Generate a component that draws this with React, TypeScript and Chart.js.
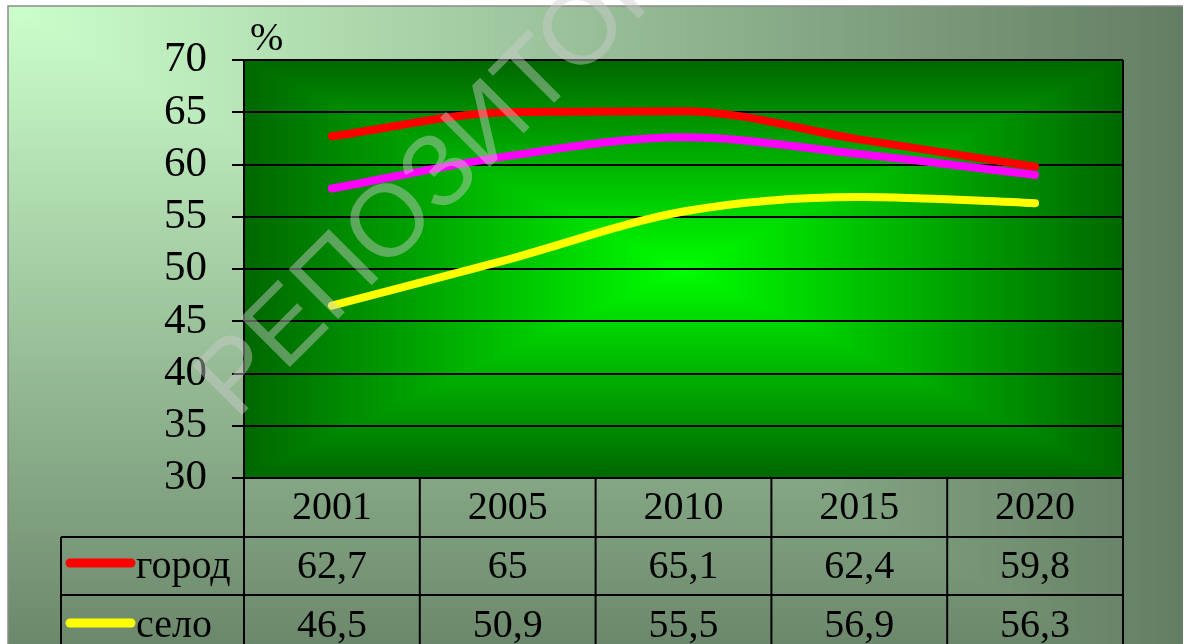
import React, { useEffect, useRef } from "react";
import { Chart, registerables } from "chart.js";

Chart.register(...registerables);

const years = ["2001", "2005", "2010", "2015", "2020"];
const cityValues = [62.7, 65, 65.1, 62.4, 59.8];
const villageValues = [46.5, 50.9, 55.5, 56.9, 56.3];
const totalValues = [57.7, 60.8, 62.6, 61.0, 59.0];
const cityLabels = ["62,7", "65", "65,1", "62,4", "59,8"];
const villageLabels = ["46,5", "50,9", "55,5", "56,9", "56,3"];
const cityName = "город";
const villageName = "село";
const totalName = "всего";
const unitLabel = "%";
const watermarkText = "РЕПОЗИТОРИЙ";

const W = 1192;
const H = 644;
const SERIF = "'Liberation Serif', 'Times New Roman', serif";

function lerp(a: number[], b: number[], t: number) {
  return `rgb(${Math.round(a[0] + (b[0] - a[0]) * t)},${Math.round(a[1] + (b[1] - a[1]) * t)},${Math.round(a[2] + (b[2] - a[2]) * t)})`;
}

const bgPlugin = {
  id: "bgPlugin",
  beforeDraw(chart: any) {
    const ctx = chart.ctx;
    const ca = chart.chartArea;
    ctx.save();
    ctx.fillStyle = "#ffffff";
    ctx.fillRect(0, 0, W, H);
    const fx = 8, fy = 6, fw = 1183 - 8, fh = 700 - 6;
    const c0 = [204, 255, 204];
    const c1 = [100, 126, 100];
    const N = 220;
    for (let i = N; i >= 1; i--) {
      const t = i / N;
      ctx.fillStyle = lerp(c0, c1, t);
      ctx.fillRect(fx, fy, fw * t, fh * t);
    }
    ctx.strokeStyle = "#8a8a8a";
    ctx.lineWidth = 1.5;
    ctx.beginPath();
    ctx.moveTo(fx, H);
    ctx.lineTo(fx, fy);
    ctx.lineTo(fx + fw, fy);
    ctx.stroke();
    const cx = (ca.left + ca.right) / 2;
    const cy = (ca.top + ca.bottom) / 2;
    const hw = (ca.right - ca.left) / 2;
    const hh = (ca.bottom - ca.top) / 2;
    const g0 = [0, 255, 0];
    const g1 = [0, 104, 0];
    for (let i = N; i >= 1; i--) {
      const t = i / N;
      ctx.fillStyle = lerp(g0, g1, t);
      ctx.fillRect(cx - hw * t, cy - hh * t, 2 * hw * t, 2 * hh * t);
    }
    ctx.restore();
  },
};

const tablePlugin = {
  id: "tablePlugin",
  afterDraw(chart: any) {
    const ctx = chart.ctx;
    const ca = chart.chartArea;
    const xs = chart.scales.x;
    ctx.save();
    ctx.strokeStyle = "#000";
    ctx.lineWidth = 2;
    ctx.beginPath();
    ctx.moveTo(ca.right, ca.top);
    ctx.lineTo(ca.right, H);
    ctx.stroke();
    const colW = (ca.right - ca.left) / years.length;
    const rowTop = ca.bottom;
    const row1 = 537;
    const row2 = 595;
    const legendLeft = 61;
    ctx.beginPath();
    ctx.moveTo(ca.left, rowTop);
    ctx.lineTo(ca.right, rowTop);
    ctx.moveTo(legendLeft, row1);
    ctx.lineTo(ca.right, row1);
    ctx.moveTo(legendLeft, row2);
    ctx.lineTo(ca.right, row2);
    ctx.moveTo(legendLeft, row1);
    ctx.lineTo(legendLeft, H);
    for (let i = 0; i < years.length; i++) {
      const x = ca.left + colW * i;
      ctx.moveTo(x, rowTop);
      ctx.lineTo(x, H);
    }
    ctx.stroke();
    ctx.fillStyle = "#000";
    ctx.font = `40px ${SERIF}`;
    ctx.textAlign = "center";
    ctx.textBaseline = "alphabetic";
    years.forEach((y, i) => {
      const x = xs.getPixelForValue(i);
      ctx.fillText(y, x, 519);
      ctx.fillText(cityLabels[i], x, 578);
      ctx.fillText(villageLabels[i], x, 637);
    });
    ctx.lineCap = "round";
    ctx.lineWidth = 9;
    ctx.strokeStyle = "#ff0000";
    ctx.beginPath();
    ctx.moveTo(70, 563);
    ctx.lineTo(131, 563);
    ctx.stroke();
    ctx.strokeStyle = "#ffff00";
    ctx.beginPath();
    ctx.moveTo(70, 623);
    ctx.lineTo(131, 623);
    ctx.stroke();
    ctx.textAlign = "left";
    ctx.fillText(cityName, 136, 578);
    ctx.fillText(villageName, 136, 637);
    ctx.fillText(unitLabel, 250, 50);
    ctx.font = `italic 28px ${SERIF}`;
    ctx.fillText("Р", 1184, 664);
    ctx.translate(236, 421);
    ctx.rotate(-Math.PI / 4);
    ctx.font = "102px 'Liberation Sans', Arial, sans-serif";
    ctx.fillStyle = "rgba(205,205,205,0.45)";
    ctx.textAlign = "left";
    ctx.fillText(watermarkText, 0, 0);
    ctx.restore();
  },
};

export default function App() {
  const ref = useRef<HTMLCanvasElement | null>(null);
  useEffect(() => {
    if (!ref.current) return;
    const mk = (label: string, data: number[], color: string) => ({
      label,
      data,
      borderColor: color,
      borderWidth: 8,
      pointRadius: 0,
      cubicInterpolationMode: "monotone",
      borderCapStyle: "round",
      borderJoinStyle: "round",
    });
    const chart = new Chart(ref.current, {
      type: "line",
      data: {
        labels: years,
        datasets: [
          mk(cityName, cityValues, "#ff0000"),
          mk(totalName, totalValues, "#ff00ff"),
          mk(villageName, villageValues, "#ffff00"),
        ],
      },
      options: {
        animation: false,
        responsive: false,
        devicePixelRatio: 1,
        layout: { padding: { left: 0, top: 60, right: 69, bottom: 166 } },
        plugins: { legend: { display: false }, tooltip: { enabled: false } },
        scales: {
          x: { type: "category", offset: true, display: false },
          y: {
            min: 30,
            max: 70,
            ticks: {
              stepSize: 5,
              autoSkip: false,
              color: "#000",
              padding: 25,
              font: { family: SERIF, size: 43 },
            },
            grid: { color: "#000", lineWidth: 2, tickLength: 12, tickColor: "#000" },
            border: { color: "#000", width: 2 },
            afterFit: (s: any) => {
              s.width = 244;
            },
          },
        },
      },
      plugins: [bgPlugin, tablePlugin],
    } as any);
    return () => chart.destroy();
  }, []);
  return (
    <div style={{ position: "fixed", left: 0, top: 0, width: W, height: H }}>
      <canvas ref={ref} width={W} height={H} style={{ width: W, height: H, display: "block" }} />
    </div>
  );
}
